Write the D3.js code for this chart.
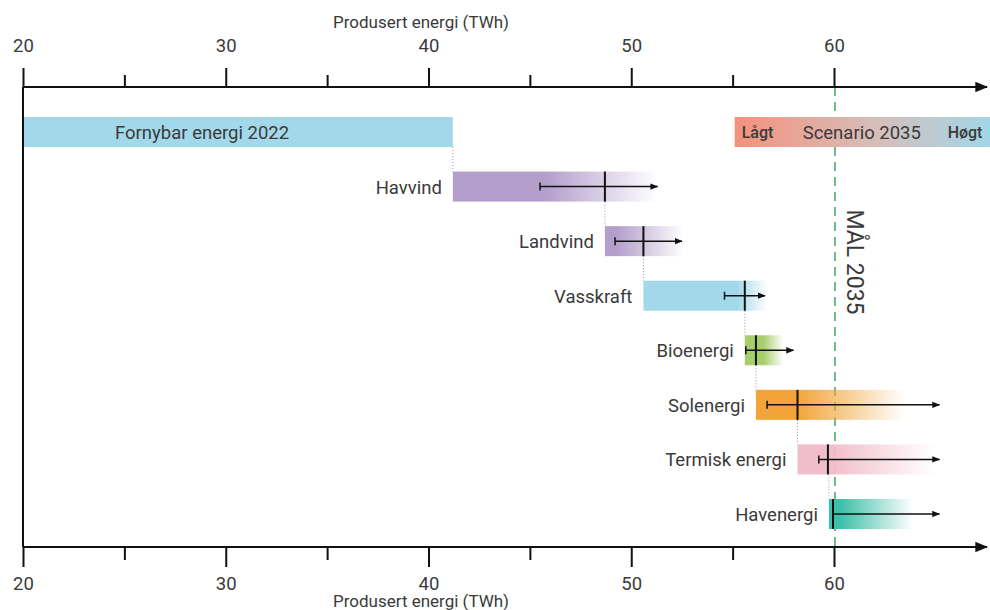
<!DOCTYPE html>
<html>
<head>
<meta charset="utf-8">
<script src="https://cdn.jsdelivr.net/npm/d3@7"></script>
<style>
  body { margin: 0; background: #fff; }
  svg text { font-family: Roboto, "Noto Sans", sans-serif; fill: #3a3a3a; }
</style>
</head>
<body>
<div id="chart"></div>
<script>
  // data (TWh)
  var sources = ["Havvind", "Landvind", "Vasskraft", "Bioenergi", "Solenergi", "Termisk energi", "Havenergi"],
      startVals = [41.2, 48.7, 50.6, 55.6, 56.15, 58.2, 59.75],
      midVals   = [48.7, 50.6, 55.6, 56.15, 58.2, 59.7, 59.95],
      lowVals   = [45.5, 49.2, 54.6, 55.65, 56.7, 59.25, 59.95],
      highVals  = [51.3, 52.5, 56.6, 58.0, 65.2, 65.2, 65.2],
      fadeFrom  = [45.8, 49.3, 55.2, 56.5, 58.2, 59.8, 60.3],
      fadeTo    = [51.3, 52.6, 56.7, 57.5, 63.5, 65.0, 63.9],
      colors    = ["#b49fcc", "#b49fcc", "#a3d8eb", "#a7cd6c", "#f2a43a", "#f1bdcb", "#3ebfaa"],
      base2022 = 41.2,
      scenarioRange = [55.1, 68],
      goal2035 = 60,
      majorTicks = [20, 30, 40, 50, 60],
      minorTicks = [25, 35, 45, 55];

  var width = 990, height = 610;
  var svg = d3.select("#chart").append("svg")
      .attr("width", width)
      .attr("height", height);

  var x = d3.scaleLinear().domain([20, 60]).range([23, 834]);
  var rows = ["base"].concat(sources);
  var y = d3.scaleBand().domain(rows).range([117, 529]).paddingInner(0.45).paddingOuter(0);
  var topY = 87, botY = 547;

  var defs = svg.append("defs");
  defs.append("marker")
      .attr("id", "arrow")
      .attr("viewBox", "0 0 10 10")
      .attr("refX", 9).attr("refY", 5)
      .attr("markerWidth", 8).attr("markerHeight", 8)
      .attr("markerUnits", "userSpaceOnUse")
      .attr("orient", "auto")
      .append("path").attr("d", "M0,1 L10,5 L0,9 Z").attr("fill", "#111");
  defs.append("marker")
      .attr("id", "bigarrow")
      .attr("viewBox", "0 0 10 10")
      .attr("refX", 9).attr("refY", 5)
      .attr("markerWidth", 13).attr("markerHeight", 13)
      .attr("markerUnits", "userSpaceOnUse")
      .attr("orient", "auto")
      .append("path").attr("d", "M0,1 L10,5 L0,9 Z").attr("fill", "#111");

  // gradients for bars
  sources.forEach(function(s, i) {
    var g = defs.append("linearGradient")
        .attr("id", "grad" + i)
        .attr("gradientUnits", "userSpaceOnUse")
        .attr("x1", x(fadeFrom[i])).attr("x2", x(fadeTo[i]))
        .attr("y1", 0).attr("y2", 0);
    g.append("stop").attr("offset", "0%").attr("stop-color", colors[i]).attr("stop-opacity", 1);
    g.append("stop").attr("offset", "100%").attr("stop-color", colors[i]).attr("stop-opacity", 0);
  });
  var sg = defs.append("linearGradient")
      .attr("id", "gradScen")
      .attr("gradientUnits", "userSpaceOnUse")
      .attr("x1", x(scenarioRange[0])).attr("x2", x(scenarioRange[1]))
      .attr("y1", 0).attr("y2", 0);
  sg.append("stop").attr("offset", "0%").attr("stop-color", "#f4917c");
  sg.append("stop").attr("offset", "55%").attr("stop-color", "#d6bfbb");
  sg.append("stop").attr("offset", "100%").attr("stop-color", "#9fd7ea");

  // goal line
  svg.append("line")
      .attr("x1", x(goal2035) + 1).attr("x2", x(goal2035) + 1)
      .attr("y1", topY).attr("y2", botY)
      .attr("stroke", "#2f9e5e").attr("stroke-width", 1.4)
      .attr("stroke-dasharray", "9,6");
  svg.append("text")
      .attr("transform", "translate(" + (x(goal2035) + 13) + ",262) rotate(90)")
      .attr("text-anchor", "middle")
      .style("font-size", "23px")
      .text("MÅL 2035");

  // base bar 2022
  svg.append("rect")
      .attr("x", x(20)).attr("y", y("base"))
      .attr("width", x(base2022) - x(20)).attr("height", y.bandwidth())
      .attr("fill", "#a3d8eb");
  svg.append("text")
      .attr("x", 115).attr("y", y("base") + y.bandwidth() / 2 + 7)
      .style("font-size", "18.5px")
      .text("Fornybar energi 2022");

  // scenario bar
  svg.append("rect")
      .attr("x", x(scenarioRange[0])).attr("y", y("base"))
      .attr("width", x(scenarioRange[1]) - x(scenarioRange[0])).attr("height", y.bandwidth())
      .attr("fill", "url(#gradScen)");
  svg.append("text")
      .attr("x", x(scenarioRange[0]) + 7).attr("y", y("base") + y.bandwidth() / 2 + 6)
      .style("font-size", "16px").style("font-weight", "500")
      .text("Lågt");
  svg.append("text")
      .attr("x", x(scenarioRange[0]) + 68).attr("y", y("base") + y.bandwidth() / 2 + 7)
      .style("font-size", "18.5px")
      .text("Scenario 2035");
  svg.append("text")
      .attr("x", x(scenarioRange[0]) + 213).attr("y", y("base") + y.bandwidth() / 2 + 6)
      .style("font-size", "16px").style("font-weight", "500")
      .text("Høgt");

  // connectors (dotted)
  var prevRow = rows.slice(0, -1);
  sources.forEach(function(s, i) {
    svg.append("line")
        .attr("x1", x(startVals[i])).attr("x2", x(startVals[i]))
        .attr("y1", y(prevRow[i]) + y.bandwidth()).attr("y2", y(s))
        .attr("stroke", "#999").attr("stroke-width", 1)
        .attr("stroke-dasharray", "1,2");
  });

  // bars
  var g = svg.selectAll(".src").data(sources).enter().append("g").attr("class", "src");
  g.append("rect")
      .attr("x", function(d, i) { return x(startVals[i]); })
      .attr("y", function(d) { return y(d); })
      .attr("width", function(d, i) { return x(fadeTo[i]) - x(startVals[i]); })
      .attr("height", y.bandwidth())
      .attr("fill", function(d, i) { return "url(#grad" + i + ")"; });
  g.append("text")
      .attr("x", function(d, i) { return x(startVals[i]) - 11; })
      .attr("y", function(d) { return y(d) + y.bandwidth() / 2 + 7; })
      .attr("text-anchor", "end")
      .style("font-size", "18.5px")
      .text(function(d) { return d; });
  // error bars
  g.append("line")
      .attr("x1", function(d, i) { return x(lowVals[i]); })
      .attr("x2", function(d, i) { return x(highVals[i]); })
      .attr("y1", function(d) { return y(d) + y.bandwidth() / 2; })
      .attr("y2", function(d) { return y(d) + y.bandwidth() / 2; })
      .attr("stroke", "#111").attr("stroke-width", 1.5)
      .attr("marker-end", "url(#arrow)");
  g.append("line")
      .attr("x1", function(d, i) { return x(lowVals[i]); })
      .attr("x2", function(d, i) { return x(lowVals[i]); })
      .attr("y1", function(d) { return y(d) + y.bandwidth() / 2 - 4; })
      .attr("y2", function(d) { return y(d) + y.bandwidth() / 2 + 4; })
      .attr("stroke", "#111").attr("stroke-width", 1.5);
  g.append("line")
      .attr("x1", function(d, i) { return x(midVals[i]); })
      .attr("x2", function(d, i) { return x(midVals[i]); })
      .attr("y1", function(d) { return y(d); })
      .attr("y2", function(d) { return y(d) + y.bandwidth(); })
      .attr("stroke", "#111").attr("stroke-width", 2);

  // axes
  function styleAxis(sel) {
    sel.select(".domain").remove();
    sel.selectAll(".tick line").attr("stroke", "#111").attr("stroke-width", 2);
    sel.selectAll(".tick text").style("font-size", "18.5px").attr("fill", "#3a3a3a");
  }
  svg.append("g").attr("transform", "translate(0," + topY + ")")
      .call(d3.axisTop(x).tickValues(majorTicks).tickSize(19).tickPadding(16).tickFormat(d3.format("d")))
      .call(styleAxis);
  svg.append("g").attr("transform", "translate(0," + topY + ")")
      .call(d3.axisTop(x).tickValues(minorTicks).tickSize(12).tickFormat(""))
      .call(styleAxis);
  svg.append("g").attr("transform", "translate(0," + botY + ")")
      .call(d3.axisBottom(x).tickValues(majorTicks).tickSize(20).tickPadding(10).tickFormat(d3.format("d")))
      .call(styleAxis);
  svg.append("g").attr("transform", "translate(0," + botY + ")")
      .call(d3.axisBottom(x).tickValues(minorTicks).tickSize(13).tickFormat(""))
      .call(styleAxis);

  [topY, botY].forEach(function(yy) {
    svg.append("line")
        .attr("x1", x(20)).attr("x2", 987)
        .attr("y1", yy).attr("y2", yy)
        .attr("stroke", "#111").attr("stroke-width", 2)
        .attr("marker-end", "url(#bigarrow)");
  });
  svg.append("line")
      .attr("x1", x(20)).attr("x2", x(20))
      .attr("y1", topY).attr("y2", botY)
      .attr("stroke", "#111").attr("stroke-width", 2);

  svg.append("text")
      .attr("x", 421).attr("y", 28)
      .attr("text-anchor", "middle")
      .style("font-size", "17px")
      .text("Produsert energi (TWh)");
  svg.append("text")
      .attr("x", 421).attr("y", 607)
      .attr("text-anchor", "middle")
      .style("font-size", "17px")
      .text("Produsert energi (TWh)");
</script>
</body>
</html>
